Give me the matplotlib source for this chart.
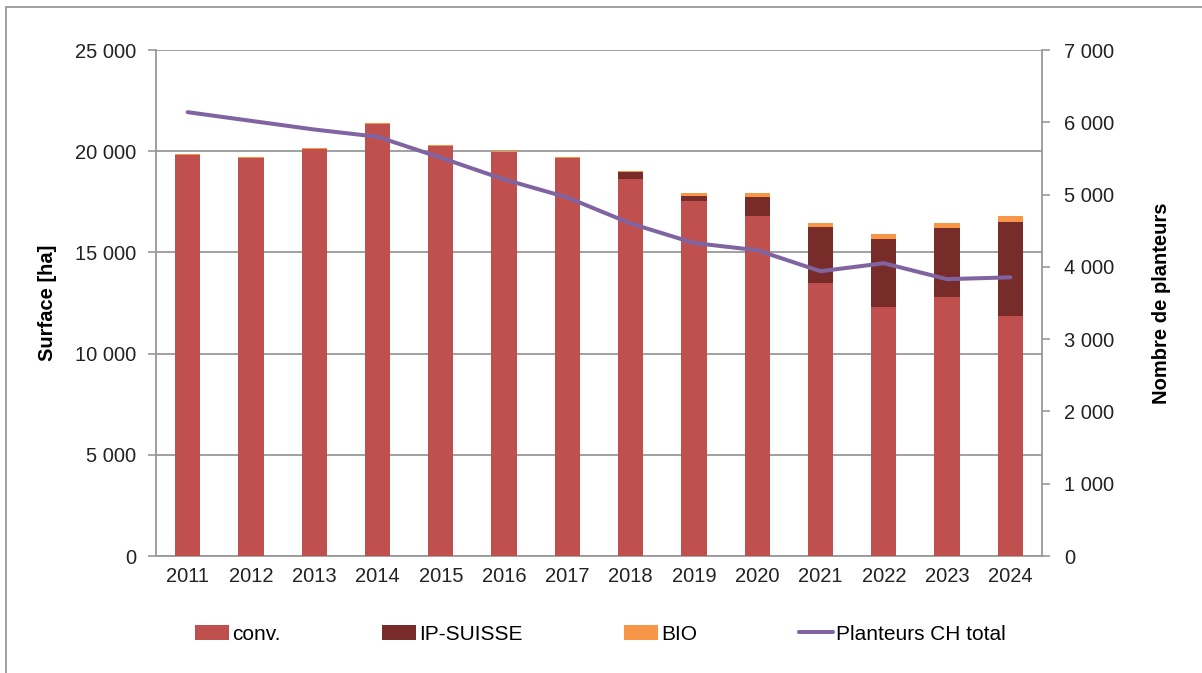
import matplotlib
matplotlib.use("Agg")
import matplotlib.pyplot as plt
from matplotlib.ticker import FuncFormatter, MultipleLocator
from matplotlib.patches import Rectangle
import numpy as np

plt.rcParams["font.family"] = ["Liberation Sans", "DejaVu Sans"]

years = ["2011", "2012", "2013", "2014", "2015", "2016", "2017",
         "2018", "2019", "2020", "2021", "2022", "2023", "2024"]
# surface [ha] per production type
conv = [19800, 19650, 20100, 21330, 20260, 19950, 19650,
        18630, 17520, 16800, 13470, 12290, 12780, 11870]
ip_suisse = [0, 0, 0, 0, 0, 0, 0,
             330, 280, 950, 2800, 3390, 3410, 4650]
bio = [50, 50, 50, 50, 50, 50, 50,
       60, 120, 170, 180, 230, 260, 280]
# number of growers
planteurs = [6140, 6020, 5900, 5800, 5510, 5210, 4960,
             4600, 4330, 4230, 3940, 4050, 3830, 3855]

def thousands(v, pos):
    return f"{int(v):,}".replace(",", " ")

fig = plt.figure(figsize=(12.02, 6.73), dpi=100)
ax = fig.add_axes([156 / 1202, 117 / 673, 886 / 1202, 506 / 673])
ax2 = ax.twinx()

x = np.arange(len(years))
conv_a = np.array(conv)
ip_a = np.array(ip_suisse)
bio_a = np.array(bio)

ax.bar(x, conv_a, width=0.4, color="#C0504D", label="conv.", zorder=3)
ax.bar(x, ip_a, width=0.4, bottom=conv_a, color="#772C2A", label="IP-SUISSE", zorder=3)
ax.bar(x, bio_a, width=0.4, bottom=conv_a + ip_a, color="#F79646", label="BIO", zorder=3)
ax2.plot(x, planteurs, color="#8064A2", lw=2.9, label="Planteurs CH total",
         solid_capstyle="round")

ax.set_xlim(-0.5, len(years) - 0.5)
ax.set_ylim(0, 25000)
ax2.set_ylim(0, 7000)
ax.yaxis.set_major_locator(MultipleLocator(5000))
ax2.yaxis.set_major_locator(MultipleLocator(1000))
ax.yaxis.set_major_formatter(FuncFormatter(thousands))
ax2.yaxis.set_major_formatter(FuncFormatter(thousands))
ax.set_xticks(x)
ax.set_xticklabels(years)

ax.grid(axis="y", color="#999999", lw=1.3, zorder=0)
ax.set_axisbelow(True)

for a in (ax, ax2):
    a.spines["top"].set_visible(False)
    a.tick_params(labelsize=14.5, colors="#222222", length=6, width=1.2,
                  color="#999999")
ax.spines["right"].set_visible(False)
ax2.spines["left"].set_visible(False)
ax2.spines["bottom"].set_visible(False)
for s in (ax.spines["left"], ax.spines["bottom"], ax2.spines["right"]):
    s.set_color("#999999")
    s.set_linewidth(1.3)
ax.tick_params(axis="x", length=0, pad=8)
ax.tick_params(axis="y", pad=8)
ax2.tick_params(axis="y", pad=10)

ax.set_ylabel("Surface [ha]", fontsize=14.5, fontweight="bold", labelpad=13)
ax2.set_ylabel("Nombre de planteurs", fontsize=14.5, fontweight="bold", labelpad=27)

h1, l1 = ax.get_legend_handles_labels()
h2, l2 = ax2.get_legend_handles_labels()
fig.legend(h1 + h2, l1 + l2, ncol=4, loc="center left",
           bbox_to_anchor=(195 / 1202, 1 - 634 / 673), frameon=False,
           fontsize=15.0, handlelength=1.65, handleheight=0.7,
           handletextpad=0.15, columnspacing=4.85, borderaxespad=0,
           borderpad=0)

# outer frame (only left and top visible)
fig.patches.append(Rectangle((6 / 1202, -0.1), 1.2, 1 - 7 / 673 + 0.1,
                             transform=fig.transFigure, fill=False,
                             edgecolor="#999999", lw=1.3))

fig.savefig("out.png", dpi=100)
